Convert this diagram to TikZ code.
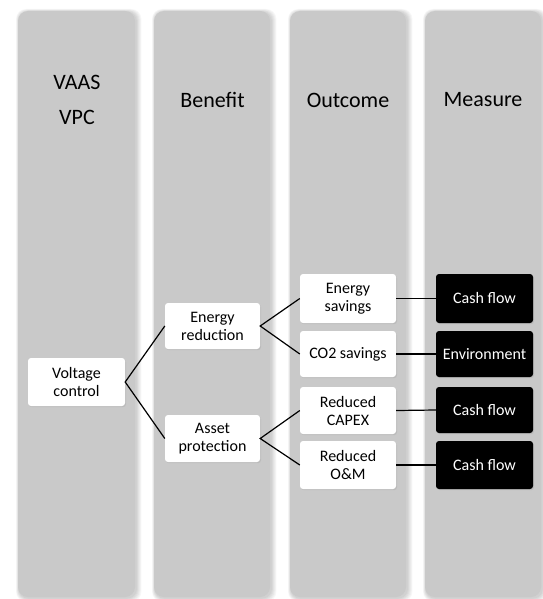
\documentclass[tikz,border=0pt]{standalone}
\usepackage{fontspec}
\setmainfont{Carlito}
\usetikzlibrary{shadows}
\definecolor{colgray}{HTML}{C9C9C9}
\tikzset{
  wbox/.style={fill=white, rounded corners=3pt, minimum width=96pt, minimum height=47pt,
    align=center, inner sep=0pt, font=\fontsize{16}{18}\selectfont,
    drop shadow={shadow xshift=1pt, shadow yshift=-1.2pt, opacity=0.18}},
  bbox/.style={wbox, fill=black, text=white, minimum width=97pt},
  ttl/.style={align=center, inner sep=0pt, font=\fontsize{22}{35}\selectfont},
  conn/.style={line width=1.2pt, black}
}
\newcommand{\mycol}[2]{%
  \foreach \i in {1,...,6}{
    \fill[black, opacity=0.03, rounded corners=10pt] (#1-\i*0.5+1,11-\i*0.5+1) rectangle (#2+\i*0.9+1,598+\i*0.6);
  }
  \fill[colgray, rounded corners=10pt] (#1,11) rectangle (#2,597);
}
\begin{document}
\begin{tikzpicture}[x=1pt,y=-1pt]
\useasboundingbox (0,0) rectangle (542,599);
\fill[white] (0,0) rectangle (542,599);
\mycol{18}{135}
\mycol{154}{270}
\mycol{290}{406}
\mycol{425}{541}
\node[ttl] (t1) at (77,100) {VAAS\\VPC};
\node[ttl] (t2) at (212.5,100) {Benefit};
\node[ttl] (t3) at (348,100) {Outcome};
\node[ttl] (t4) at (483,100) {Measure};
\node[wbox, minimum width=97pt, minimum height=48pt] (vc) at (76.5,382) {Voltage\\control};
\node[wbox, minimum width=95pt, minimum height=46pt] (er) at (212.5,326) {Energy\\reduction};
\node[wbox, minimum width=95pt, minimum height=47pt] (ap) at (212.5,438.5) {Asset\\protection};
\node[wbox, minimum height=49pt] (es) at (348,298.5) {Energy\\savings};
\node[wbox, minimum height=46pt] (co) at (348,354) {CO2 savings};
\node[wbox] (cx) at (348,410.5) {Reduced\\CAPEX};
\node[wbox, minimum height=48pt] (om) at (348,465) {Reduced\\O\&M};
\node[bbox, minimum height=49pt] (m1) at (484.5,298.5) {Cash flow};
\node[bbox, minimum height=46pt] (m2) at (484.5,354) {Environment};
\node[bbox, minimum height=46pt] (m3) at (484.5,410) {Cash flow};
\node[bbox, minimum height=48pt] (m4) at (484.5,465) {Cash flow};
\draw[conn] (er.west) -- (vc.east) -- (ap.west);
\draw[conn] (es.west) -- (er.east) -- (co.west);
\draw[conn] (cx.west) -- (ap.east) -- (om.west);
\draw[conn] (es.east) -- (m1.west);
\draw[conn] (co.east) -- (m2.west);
\draw[conn] (cx.east) -- (m3.west);
\draw[conn] (om.east) -- (m4.west);
\end{tikzpicture}
\end{document}
